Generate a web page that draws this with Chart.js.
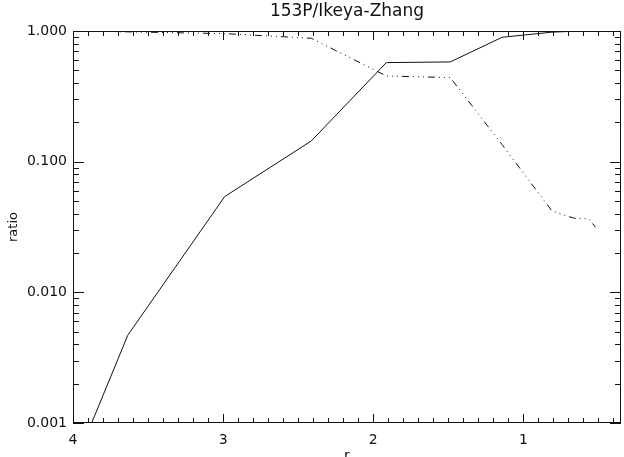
<!DOCTYPE html>
<html>
<head>
<meta charset="utf-8">
<script src="https://cdn.jsdelivr.net/npm/chart.js@4.4.1/dist/chart.umd.min.js"></script>
<style>
	html, body { margin: 0; padding: 0; background: #fff; }
	#wrap { width: 624px; height: 457px; }
</style>
</head>
<body>
<div id="wrap"><canvas id="ratio-graph" width="624" height="457"></canvas></div>
<script>
const titleText = "153P/Ikeya-Zhang";
const xLabel = "r";
const yLabel = "ratio";

// heliocentric distance r, shared by both curves
const rValues = [4.0, 3.635, 2.99, 2.413, 1.913, 1.487, 1.142, 0.81, 0.667, 0.564, 0.52];
const solidRatio = [0.00045, 0.0047, 0.054, 0.144, 0.573, 0.58, 0.895, 0.98, 0.995, 1.0, 1.005];
const dashRatio = [1.0, 0.985, 0.955, 0.88, 0.453, 0.44, 0.135, 0.042, 0.037, 0.0365, 0.0315];

const xTicks = [4, 3, 2, 1];
const yTicks = [0.001, 0.01, 0.1, 1];

const fontFamily = "'DejaVu Sans', sans-serif";
const ink = "#111";

function toPoints(ys) {
	return rValues.map((r, i) => ({ x: r, y: ys[i] }));
}

// IDL style frame: box + inward ticks on all four sides, plus titles
const idlFrame = {
	id: "idlFrame",
	afterDraw(chart) {
		const ctx = chart.ctx;
		const a = chart.chartArea;
		const xs = chart.scales.x;
		const ys = chart.scales.y;
		ctx.save();
		ctx.strokeStyle = ink;
		ctx.fillStyle = ink;
		ctx.lineWidth = 1;
		ctx.setLineDash([]);
		ctx.strokeRect(Math.round(a.left) + 0.5, Math.round(a.top) + 0.5,
			Math.round(a.right - a.left) - 1, Math.round(a.bottom - a.top) - 1);

		const L = Math.round(a.left), R = Math.round(a.right) - 1;
		const T = Math.round(a.top), B = Math.round(a.bottom) - 1;
		// minor ticks every 0.1 in r, major on whole numbers
		for (let k = 4; k <= 40; k++) {
			const px = Math.round(xs.getPixelForValue(k / 10));
			const len = k % 10 === 0 ? 9 : 5;
			ctx.fillRect(px, B - len + 1, 1, len);
			ctx.fillRect(px, T, 1, len);
		}
		// log minor ticks 2..9 in each decade
		for (let d = -3; d <= 0; d++) {
			for (let m = 1; m <= 9; m++) {
				if (d === 0 && m > 1) break;
				const v = m * Math.pow(10, d);
				const py = Math.round(ys.getPixelForValue(v));
				const len = m === 1 ? 11 : 6;
				ctx.fillRect(L, py, len, 1);
				ctx.fillRect(R - len + 1, py, len, 1);
			}
		}

		ctx.textAlign = "center";
		ctx.textBaseline = "middle";
		ctx.font = "17px " + fontFamily;
		ctx.fillText(titleText, (a.left + a.right) / 2, 12);

		ctx.font = "14px " + fontFamily;
		ctx.textBaseline = "top";
		ctx.fillText(xLabel, (a.left + a.right) / 2, 449);

		ctx.translate(14, (a.top + a.bottom) / 2);
		ctx.rotate(-Math.PI / 2);
		ctx.textBaseline = "middle";
		ctx.font = "13px " + fontFamily;
		ctx.fillText(yLabel, 0, 0);
		ctx.restore();
	}
};

const ctx = document.getElementById("ratio-graph");

new Chart(ctx, {
	type: "line",
	data: {
		datasets: [
			{
				label: "solid",
				data: toPoints(solidRatio),
				borderColor: ink,
				borderWidth: 1,
				pointRadius: 0,
				tension: 0,
				fill: false
			},
			{
				label: "dash-dot",
				data: toPoints(dashRatio),
				borderColor: ink,
				borderWidth: 1,
				borderDash: [7, 4, 1, 4, 1, 4, 1, 4],
				pointRadius: 0,
				tension: 0,
				fill: false
			}
		]
	},
	options: {
		responsive: false,
		animation: false,
		devicePixelRatio: 1,
		layout: { padding: { top: 31, right: 3, left: 0, bottom: 0 } },
		plugins: {
			legend: { display: false },
			title: { display: false },
			tooltip: { enabled: false }
		},
		scales: {
			x: {
				type: "linear",
				reverse: true,
				min: 0.35,
				max: 4,
				grid: { display: false, drawTicks: false },
				border: { display: false },
				afterBuildTicks: s => { s.ticks = xTicks.map(v => ({ value: v })); },
				afterFit: s => { s.height = 34; },
				ticks: {
					color: ink,
					font: { family: fontFamily, size: 14 },
					padding: 9,
					maxRotation: 0,
					autoSkip: false,
					callback: v => String(v)
				}
			},
			y: {
				type: "logarithmic",
				min: 0.001,
				max: 1,
				grid: { display: false, drawTicks: false },
				border: { display: false },
				afterBuildTicks: s => { s.ticks = yTicks.map(v => ({ value: v })); },
				afterFit: s => { s.width = 73; },
				ticks: {
					color: ink,
					font: { family: fontFamily, size: 14 },
					padding: 6,
					autoSkip: false,
					callback: v => Number(v).toFixed(3)
				}
			}
		}
	},
	plugins: [idlFrame]
});
</script>
</body>
</html>
